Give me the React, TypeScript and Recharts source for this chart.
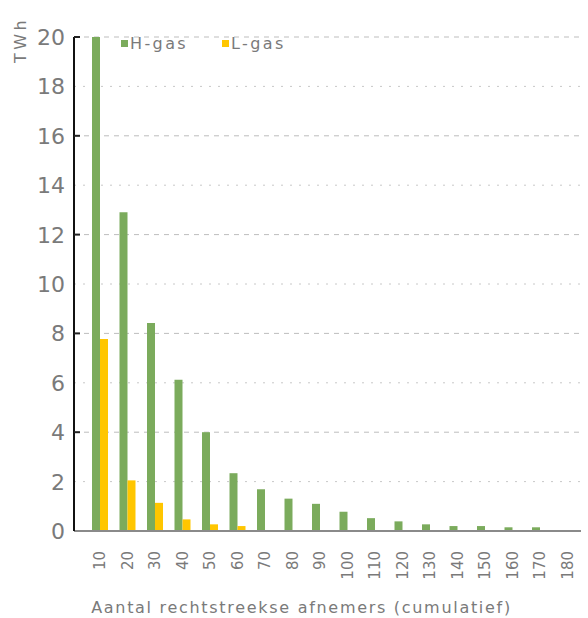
import { Bar, BarChart, CartesianGrid, Legend, XAxis, YAxis } from "recharts";

const categories = ["10", "20", "30", "40", "50", "60", "70", "80", "90", "100", "110", "120", "130", "140", "150", "160", "170", "180"];
const hGas = [20, 12.9, 8.42, 6.12, 4.0, 2.34, 1.69, 1.31, 1.1, 0.78, 0.52, 0.39, 0.27, 0.2, 0.2, 0.15, 0.15, 0];
const lGas = [7.77, 2.05, 1.14, 0.47, 0.27, 0.2, 0, 0, 0, 0, 0, 0, 0, 0, 0, 0, 0, 0];
const yTicks = [0, 2, 4, 6, 8, 10, 12, 14, 16, 18, 20];
const majorGrid = [4, 8, 12, 16, 20];
const minorGrid = [2, 6, 10, 14, 18];

const GREEN = "#7bab5c";
const YELLOW = "#ffc600";
const TEXT = "#7a7a7a";
const FONT = "'DejaVu Sans', sans-serif";

const rows = categories.map((c, i) => ({ cat: c, "H-gas": hGas[i], "L-gas": lGas[i] }));

const XTick = ({ x, y, payload }: any) => (
  <g transform={`translate(${x},${y})`}>
    <text transform="rotate(-90)" textAnchor="end" dy="0.36em" x={0} y={0} fill={TEXT} fontSize={15} fontFamily={FONT}>
      {payload.value}
    </text>
  </g>
);

// labels left of the axis, short marks inside the plot at every 4 TWh
const YTick = ({ x, y, payload }: any) => (
  <g>
    <text x={x} y={y} dy="0.36em" textAnchor="end" fill={TEXT} fontSize={22} fontFamily={FONT}>
      {payload.value}
    </text>
    {payload.value % 4 === 0 && payload.value > 0 && (
      <line x1={x + 9} x2={x + 15} y1={y} y2={y} stroke="#222" strokeWidth={2} />
    )}
  </g>
);

const LegendBox = () => (
  <div style={{ display: "flex", fontFamily: FONT, fontSize: 16, color: TEXT, letterSpacing: 2.4 }}>
    {[
      ["H-gas", GREEN],
      ["L-gas", YELLOW],
    ].map(([name, col]) => (
      <div key={name} style={{ display: "flex", alignItems: "center", width: 101 }}>
        <span style={{ display: "inline-block", width: 7, height: 7, background: col, marginRight: 2 }} />
        <span>{name}</span>
      </div>
    ))}
  </div>
);

export default function App() {
  return (
    <div style={{ position: "absolute", left: 0, top: 0, width: 588, height: 618, background: "#fff" }}>
      <BarChart
        width={588}
        height={618}
        data={rows}
        margin={{ top: 18, right: 7, left: 0, bottom: 0 }}
        barGap={0}
        barCategoryGap={0}
      >
        <CartesianGrid vertical={false} horizontalValues={minorGrid} stroke="#c8c8c8" strokeDasharray="2 7" />
        <CartesianGrid vertical={false} horizontalValues={majorGrid} stroke="#bdbdbd" strokeDasharray="5 5" />
        <XAxis
          dataKey="cat"
          height={87}
          tick={<XTick />}
          tickLine={false}
          tickSize={0}
          tickMargin={20}
          axisLine={{ stroke: "#8a8a8a", strokeWidth: 2 }}
          padding={{ left: 12, right: 0 }}
          interval={0}
          label={{
            value: "Aantal rechtstreekse afnemers (cumulatief)",
            position: "insideBottom",
            offset: 5,
            fill: TEXT,
            fontSize: 16,
            fontFamily: FONT,
            letterSpacing: 1.7,
            dx: -26,
          }}
        />
        <YAxis
          width={74}
          domain={[0, 20]}
          ticks={yTicks}
          allowDataOverflow
          interval={0}
          tick={<YTick />}
          tickLine={false}
          tickSize={0}
          tickMargin={9}
          axisLine={{ stroke: "#111", strokeWidth: 2 }}
          label={{
            value: "TWh",
            angle: -90,
            position: "insideTopLeft",
            offset: 0,
            fill: TEXT,
            fontSize: 16,
            fontFamily: FONT,
            letterSpacing: 3.5,
            dx: 15,
            dy: 26,
          }}
        />
        <Legend
          verticalAlign="top"
          align="left"
          content={<LegendBox />}
          wrapperStyle={{ top: 34, left: 121, width: "auto" }}
        />
        <Bar dataKey="H-gas" fill={GREEN} barSize={8} isAnimationActive={false} />
        <Bar dataKey="L-gas" fill={YELLOW} barSize={8} isAnimationActive={false} />
      </BarChart>
    </div>
  );
}
